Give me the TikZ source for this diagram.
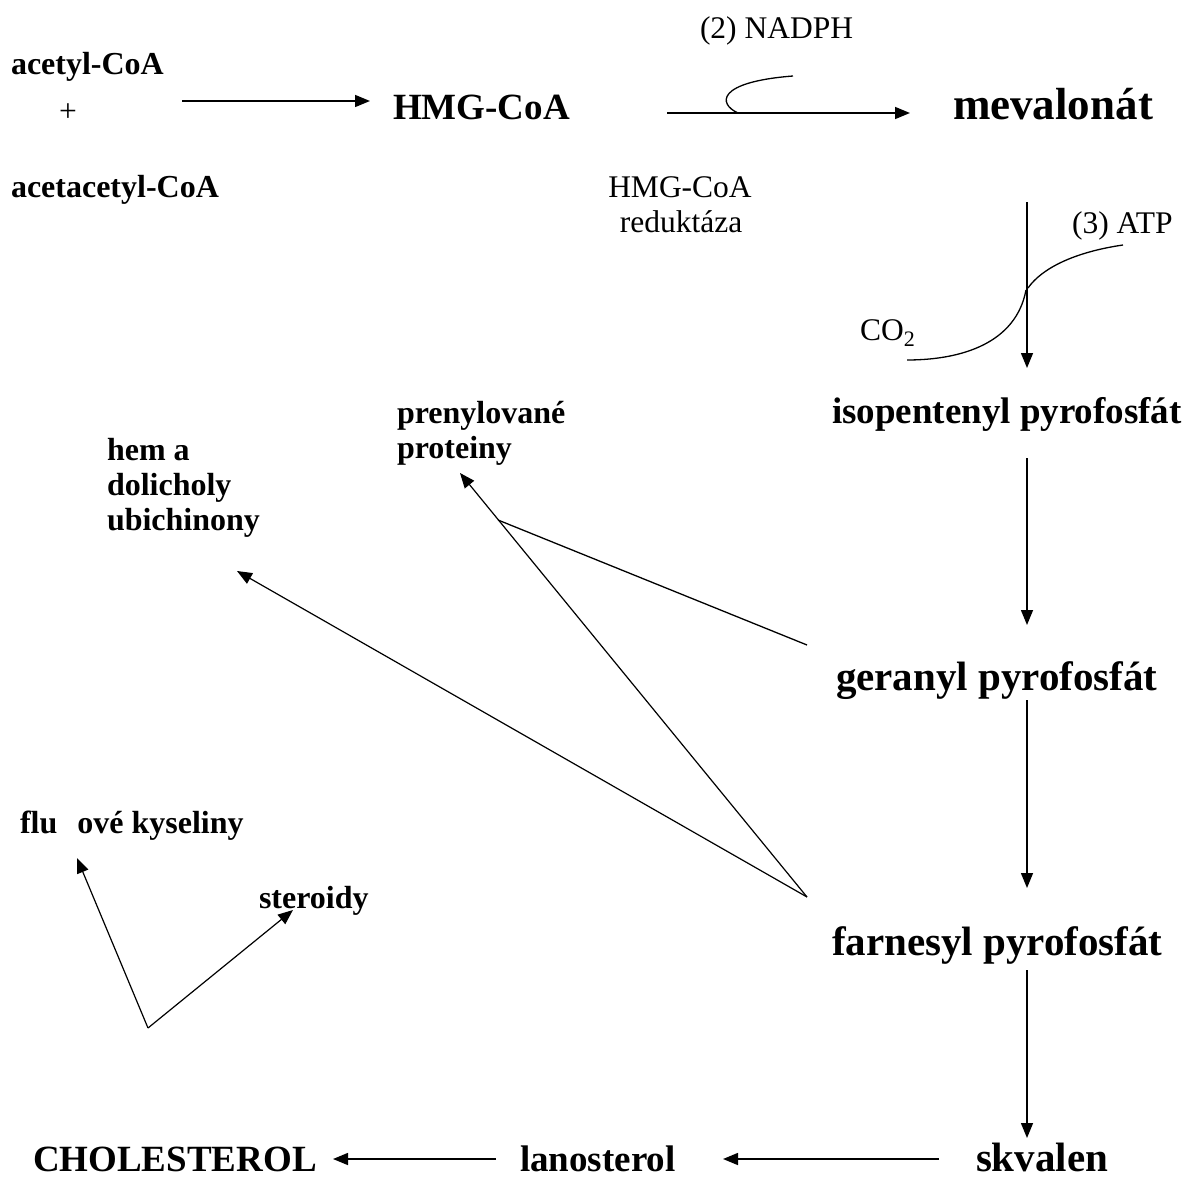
\documentclass[tikz,border=0pt]{standalone}
\usepackage{fontspec}
\setmainfont{Liberation Serif}
\usetikzlibrary{arrows.meta}
\tikzset{
  lbl/.style={inner sep=0pt, outer sep=0pt, anchor=base west},
  bS/.style={lbl, font=\fontsize{32}{35}\selectfont\bfseries},
  bM/.style={lbl, font=\fontsize{37}{41}\selectfont\bfseries},
  bN/.style={lbl, font=\fontsize{41}{45}\selectfont\bfseries},
  bL/.style={lbl, font=\fontsize{45}{49}\selectfont\bfseries},
  rS/.style={lbl, font=\fontsize{31.5}{35}\selectfont},
  arr/.style={line width=1.5pt, -{Triangle[length=15pt,width=12pt]}},
  ln/.style={line width=1.3pt},
  thin arr/.style={line width=1.2pt, -{Triangle[length=15pt,width=12pt]}},
}
\begin{document}
\begin{tikzpicture}[x=1pt,y=-1pt]
\useasboundingbox (0,0) rectangle (1189,1180);

% texts
\node[bS] (acetyl) at (11,75) {acetyl-CoA};
\node[rS, anchor=center] (plus) at (68,113) {+};
\node[bS] (acac) at (11,197) {acetacetyl-CoA};
\node[bM] (hmg) at (393,120) {HMG-CoA};
\node[bL] (mev) at (953,120) {mevalonát};
\node[rS] (nadph) at (700,39) {(2) NADPH};
\node[rS, anchor=base] (enz1) at (680,197) {HMG-CoA};
\node[rS, anchor=base] (enz2) at (681,232) {reduktáza};
\node[rS] (atp) at (1072,233) {(3) ATP};
\node[rS] (co2) at (860,340) {CO\textsubscript{2}};
\node[bM] (ipp) at (832,423) {isopentenyl pyrofosfát};
\node[bN] (gpp) at (836,690) {geranyl pyrofosfát};
\node[bN] (fpp) at (832,955) {farnesyl pyrofosfát};
\node[bN] (skv) at (976,1171) {skvalen};
\node[bM] (lano) at (520,1171) {lanosterol};
\node[bM] (chol) at (33,1171) {CHOLESTEROL};
\node[bS] (pren1) at (397,423) {prenylované};
\node[bS] (pren2) at (397,458) {proteiny};
\node[bS] (hem1) at (107,460) {hem a};
\node[bS] (hem2) at (107,495) {dolicholy};
\node[bS] (hem3) at (107,530) {ubichinony};
\node[bS] (bile) at (20,833) {flu\kern20pt ové kyseliny};
\node[bS] (ster) at (259,908) {steroidy};

% connector end points
\coordinate (a1s) at (182,101);  \coordinate (a1e) at (370,101);
\coordinate (a2s) at (667,113);  \coordinate (a2e) at (910,113);
\coordinate (hook) at (738,113);
\coordinate (v1s) at (1027,202); \coordinate (v1e) at (1027,368);
\coordinate (v2s) at (1027,458); \coordinate (v2e) at (1027,625);
\coordinate (v3s) at (1027,700); \coordinate (v3e) at (1027,888);
\coordinate (v4s) at (1027,970); \coordinate (v4e) at (1027,1138);
\coordinate (h1s) at (939,1159); \coordinate (h1e) at (723,1159);
\coordinate (h2s) at (496,1159); \coordinate (h2e) at (333,1159);
\coordinate (G) at (807,645);    \coordinate (J) at (498,520);
\coordinate (F) at (807,897);
\coordinate (prenTip) at (460,473);
\coordinate (hemTip) at (237,571);
\coordinate (V) at (148,1028);
\coordinate (bileTip) at (77,858);
\coordinate (sterTip) at (293,910);

% main pathway arrows
\draw[arr] (a1s) -- (a1e);
\draw[arr] (a2s) -- (a2e);
\draw[ln] (hook) .. controls (718,104) and (716,82) .. (793,76);
\draw[arr] (v1s) -- (v1e);
\draw[ln] (1123,245) .. controls (1075,252) and (1042,268) .. (1028,288);
\draw[ln] (1026,290) .. controls (1016,343) and (962,360) .. (907,360);
\draw[arr] (v2s) -- (v2e);
\draw[arr] (v3s) -- (v3e);
\draw[arr] (v4s) -- (v4e);
\draw[arr] (h1s) -- (h1e);
\draw[arr] (h2s) -- (h2e);

% branches
\draw[ln] (G) -- (J);
\draw[thin arr] (F) -- (prenTip);
\draw[thin arr] (F) -- (hemTip);
\draw[thin arr] (V) -- (bileTip);
\draw[thin arr] (V) -- (sterTip);
\end{tikzpicture}
\end{document}
